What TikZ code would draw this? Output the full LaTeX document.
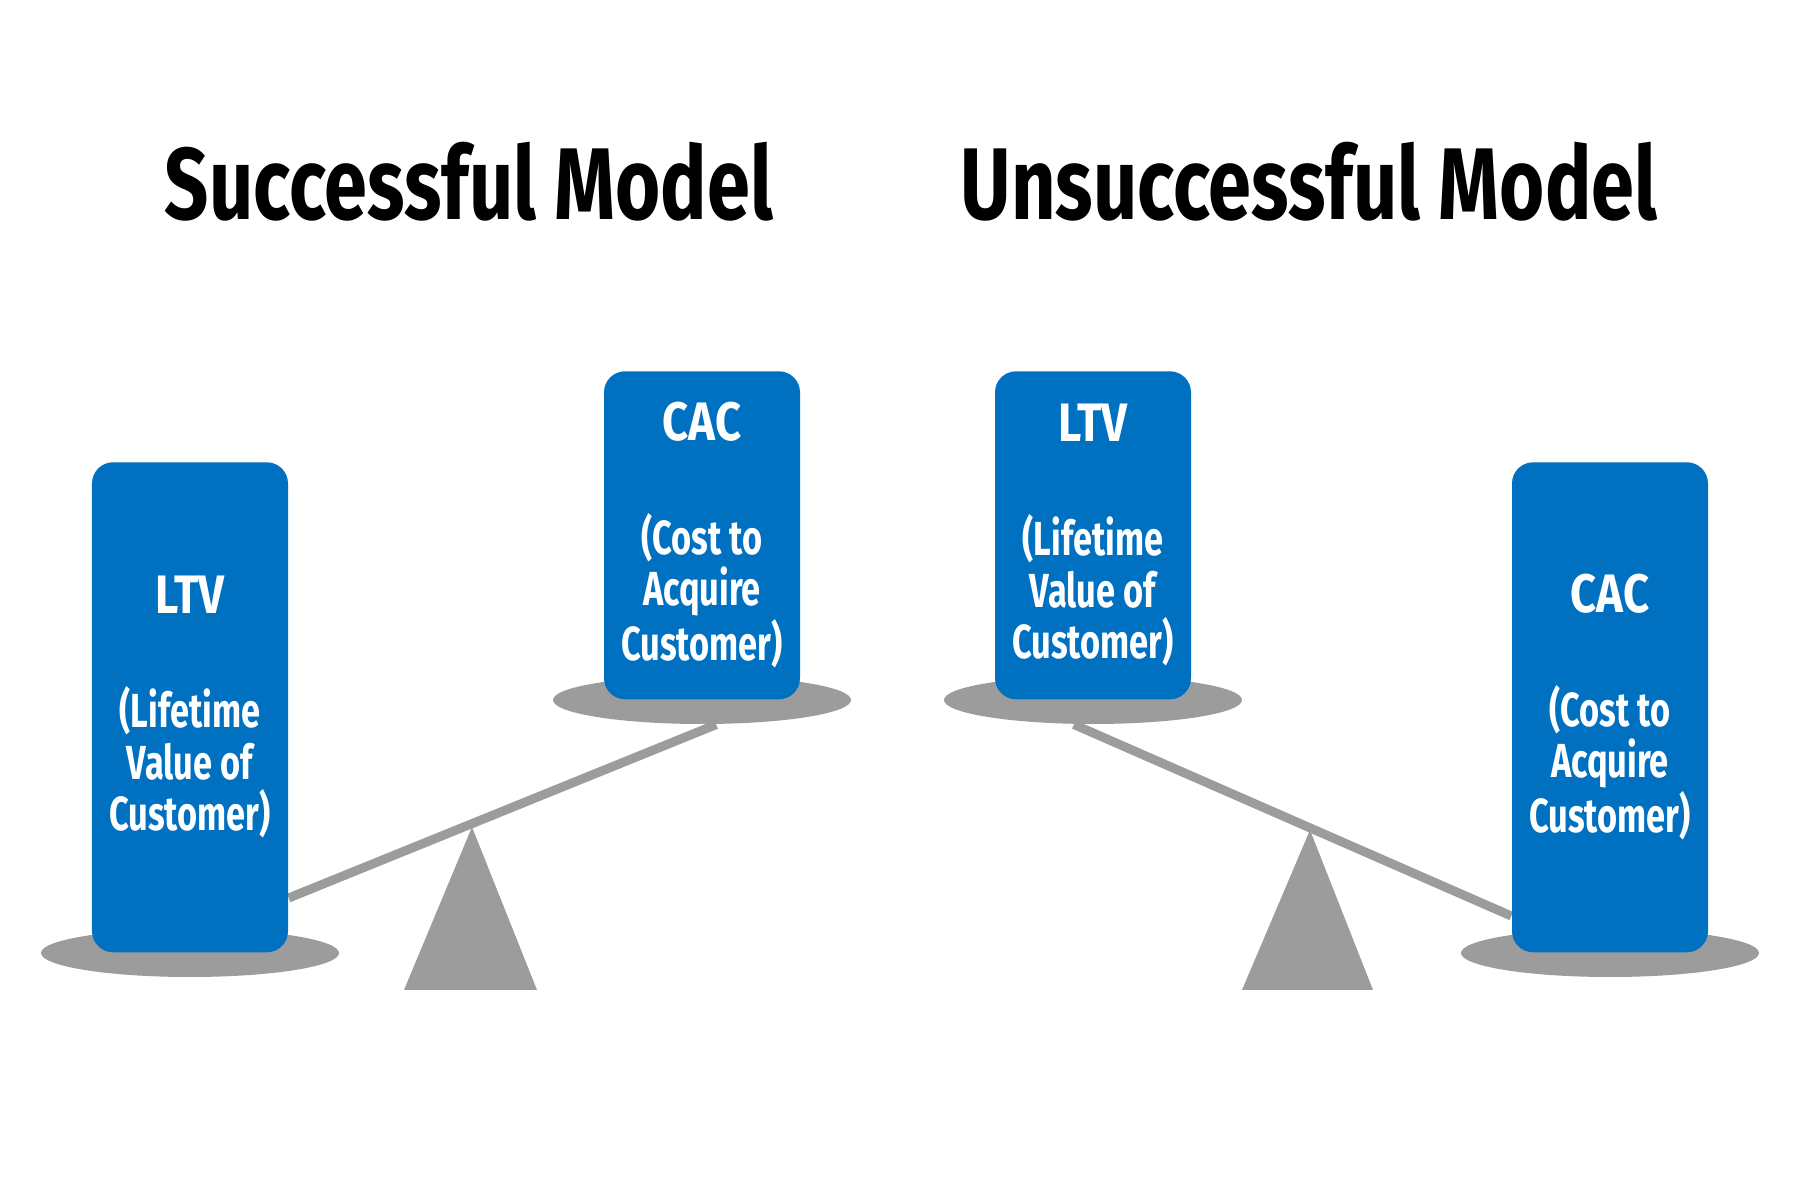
\documentclass[tikz,border=0pt]{standalone}
\usepackage{fontspec}
\setmainfont{Fira Sans}
\newfontfamily\narrowfont[FakeStretch=0.76]{Fira Sans}
\newfontfamily\boxfont[FakeStretch=0.72]{Fira Sans}
\newfontfamily\headfont[FakeStretch=0.84]{Fira Sans}
\usetikzlibrary{shapes.geometric,backgrounds,calc}
\definecolor{weightblue}{HTML}{0070C0}
\definecolor{scalegray}{HTML}{9C9C9C}
\tikzstyle{every node}=[inner sep=0pt]
\tikzstyle{title}=[anchor=base,font=\narrowfont\bfseries\fontsize{29}{32}\selectfont]
\tikzstyle{weight}=[anchor=south,fill=weightblue,text=white,rounded corners=6pt,
  minimum width=1.96cm,align=center,font=\boxfont\bfseries\fontsize{13.6}{14.7}\selectfont]
\tikzstyle{heavy}=[minimum height=4.9cm]
\tikzstyle{light}=[minimum height=3.28cm]
\tikzstyle{plate}=[ellipse,fill=scalegray,minimum width=2.98cm,minimum height=0.48cm]
\tikzstyle{pivot}=[fill=scalegray]
\tikzstyle{beam}=[draw=scalegray,line width=0.09cm]
\newcommand{\wname}[1]{{\headfont\bfseries\fontsize{15.4}{14.7}\selectfont #1}}

\begin{document}
\begin{tikzpicture}
  \useasboundingbox (0,0) rectangle (18,12);

  \node[title] (succ) at (4.69,9.80) {Successful Model};
  \node[title] (unsucc) at (13.09,9.80) {Unsuccessful Model};

  \node[plate] (plLtvL) at (1.90,2.47) {};
  \node[weight,heavy] (ltvL) at (1.90,2.47)
    {\wname{LTV}\\[0.62cm](Lifetime\\Value of\\Customer)};
  \node[plate] (plCacL) at (7.02,5.00) {};
  \node[weight,light] (cacL) at (7.02,5.00)
    {\wname{CAC}\\[0.62cm](Cost to\\Acquire\\Customer)};

  \node[plate] (plLtvR) at (10.93,5.00) {};
  \node[weight,light] (ltvR) at (10.93,5.00)
    {\wname{LTV}\\[0.62cm](Lifetime\\Value of\\Customer)};
  \node[plate] (plCacR) at (16.10,2.47) {};
  \node[weight,heavy] (cacR) at (16.10,2.47)
    {\wname{CAC}\\[0.62cm](Cost to\\Acquire\\Customer)};

  \begin{pgfonlayer}{background}
    \fill[white] (0,0) rectangle (18,12);
    \fill[pivot] (4.72,3.73) -- (5.37,2.10) -- (4.04,2.10) -- cycle;
    \fill[pivot] (13.10,3.70) -- (13.73,2.10) -- (12.42,2.10) -- cycle;
    \draw[beam] ($(ltvL.south east)+(0,0.55)$) -- (plCacL.-60);
    \draw[beam] (plLtvR.-128) -- ($(cacR.south west)+(0,0.37)$);
  \end{pgfonlayer}
\end{tikzpicture}
\end{document}
